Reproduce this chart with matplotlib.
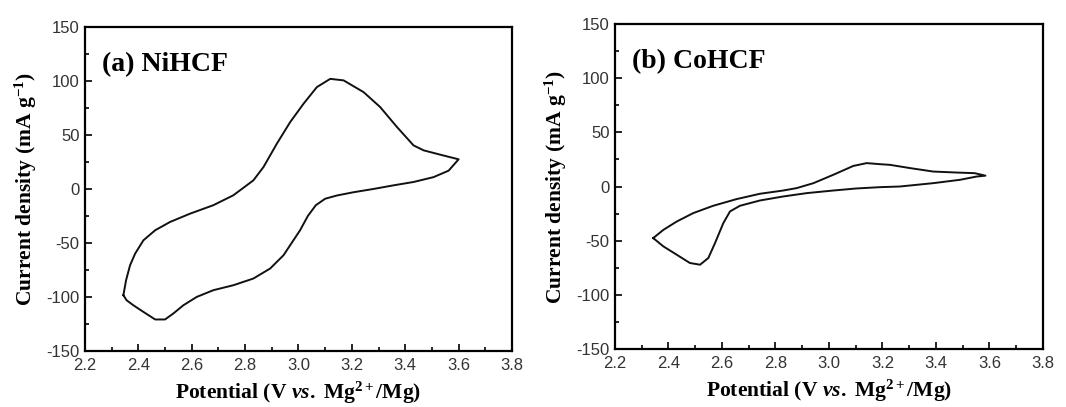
import numpy as np
import matplotlib
matplotlib.use("Agg")
import matplotlib.pyplot as plt
from matplotlib.ticker import MultipleLocator, FormatStrFormatter

plt.rcParams['font.family'] = ['Liberation Sans', 'DejaVu Sans']
plt.rcParams['axes.unicode_minus'] = False
plt.rcParams['mathtext.fontset'] = 'custom'
plt.rcParams['mathtext.rm'] = 'Liberation Serif:bold'
plt.rcParams['mathtext.it'] = 'Liberation Serif:bold:italic'
plt.rcParams['mathtext.bf'] = 'Liberation Serif:bold'

# NiHCF cyclic voltammogram (closed loop: anodic sweep, then cathodic sweep)
ni_v = [2.344, 2.354, 2.369, 2.388, 2.419, 2.463, 2.519, 2.594, 2.681, 2.756, 2.806,
        2.831, 2.869, 2.919, 2.969, 3.019, 3.069, 3.119, 3.169, 3.244, 3.306, 3.369,
        3.431, 3.469, 3.531, 3.60,
        3.5625, 3.506, 3.431, 3.356, 3.28, 3.206, 3.144, 3.10, 3.065, 3.035, 3.006,
        2.981, 2.944, 2.894, 2.831, 2.756, 2.681, 2.619, 2.569, 2.531, 2.50, 2.463,
        2.419, 2.381, 2.356, 2.344]
ni_i = [-98.3, -84.5, -70.6, -59.8, -47.5, -38.2, -30.5, -22.8, -15, -5.8, 3.4,
        8, 20.4, 42, 62, 79, 94.4, 102, 100.6, 89.7, 75.9, 57.4,
        40.4, 35.8, 31.8, 27.5,
        17, 11, 6.5, 3.4, 0, -3, -6, -9, -15, -25, -38.2,
        -47.5, -61.3, -73.6, -82.9, -89.1, -93.7, -99.9, -107.6, -115.3, -120.8, -120.8,
        -113.8, -107.6, -103, -98.3]

# CoHCF cyclic voltammogram
co_v = [2.343, 2.381, 2.431, 2.493, 2.567, 2.655, 2.742, 2.829, 2.879, 2.942, 3.016,
        3.091, 3.141, 3.191, 3.228, 3.303, 3.390, 3.477, 3.545, 3.585,
        3.552, 3.49, 3.39, 3.265, 3.191, 3.103, 3.016, 2.917, 2.829, 2.742, 2.667,
        2.630, 2.605, 2.574, 2.549, 2.518, 2.48, 2.431, 2.381, 2.343]
co_i = [-47.6, -40, -32.3, -24.5, -17.8, -11.6, -6.7, -3.7, -1.5, 3.1, 10.8,
        19, 21.6, 20.6, 20, 17, 13.8, 12.9, 12.3, 10,
        9.2, 6.2, 3.1, 0, -0.6, -1.8, -3.7, -6.1, -9.2, -12.9, -17.8,
        -23, -33.8, -52.2, -66, -72.2, -70.6, -63, -55.3, -47.6]

panels = [
    ([0.0797, 0.1376, 0.4006, 0.796], ni_v, ni_i, '(a) NiHCF'),
    ([0.5769, 0.1425, 0.4015, 0.7985], co_v, co_i, '(b) CoHCF'),
]

fig = plt.figure(figsize=(10.66, 4.07), dpi=100)
for pos, v, i, label in panels:
    ax = fig.add_axes(pos)
    ax.plot(v, i, color='#111111', lw=1.4, solid_joinstyle='round')
    ax.set_xlim(2.2, 3.8)
    ax.set_ylim(-150, 150)
    ax.xaxis.set_major_locator(MultipleLocator(0.2))
    ax.xaxis.set_minor_locator(MultipleLocator(0.1))
    ax.yaxis.set_major_locator(MultipleLocator(50))
    ax.yaxis.set_minor_locator(MultipleLocator(25))
    ax.xaxis.set_major_formatter(FormatStrFormatter('%.1f'))
    ax.tick_params(which='both', direction='in', top=False, right=False,
                   labelsize=12, labelcolor='#333333', width=1.2)
    ax.tick_params(axis='y', pad=4)
    ax.tick_params(axis='x', pad=5)
    ax.tick_params(which='major', length=5)
    ax.tick_params(which='minor', length=3)
    for s in ax.spines.values():
        s.set_linewidth(1.6)
    ax.set_xlabel(r'$\mathrm{Potential\ (V}\ \mathit{vs.}\ \mathrm{Mg^{2+}/Mg)}$',
                  fontsize=15.5, labelpad=5)
    ax.set_ylabel(r'$\mathrm{Current\ density\ (mA\ g^{-1})}$', fontsize=15.5, labelpad=5)
    ax.text(0.04, 0.885, label, transform=ax.transAxes, fontsize=20,
            fontweight='bold', family='Liberation Serif', va='center', ha='left')

fig.savefig('out.png', dpi=100)
